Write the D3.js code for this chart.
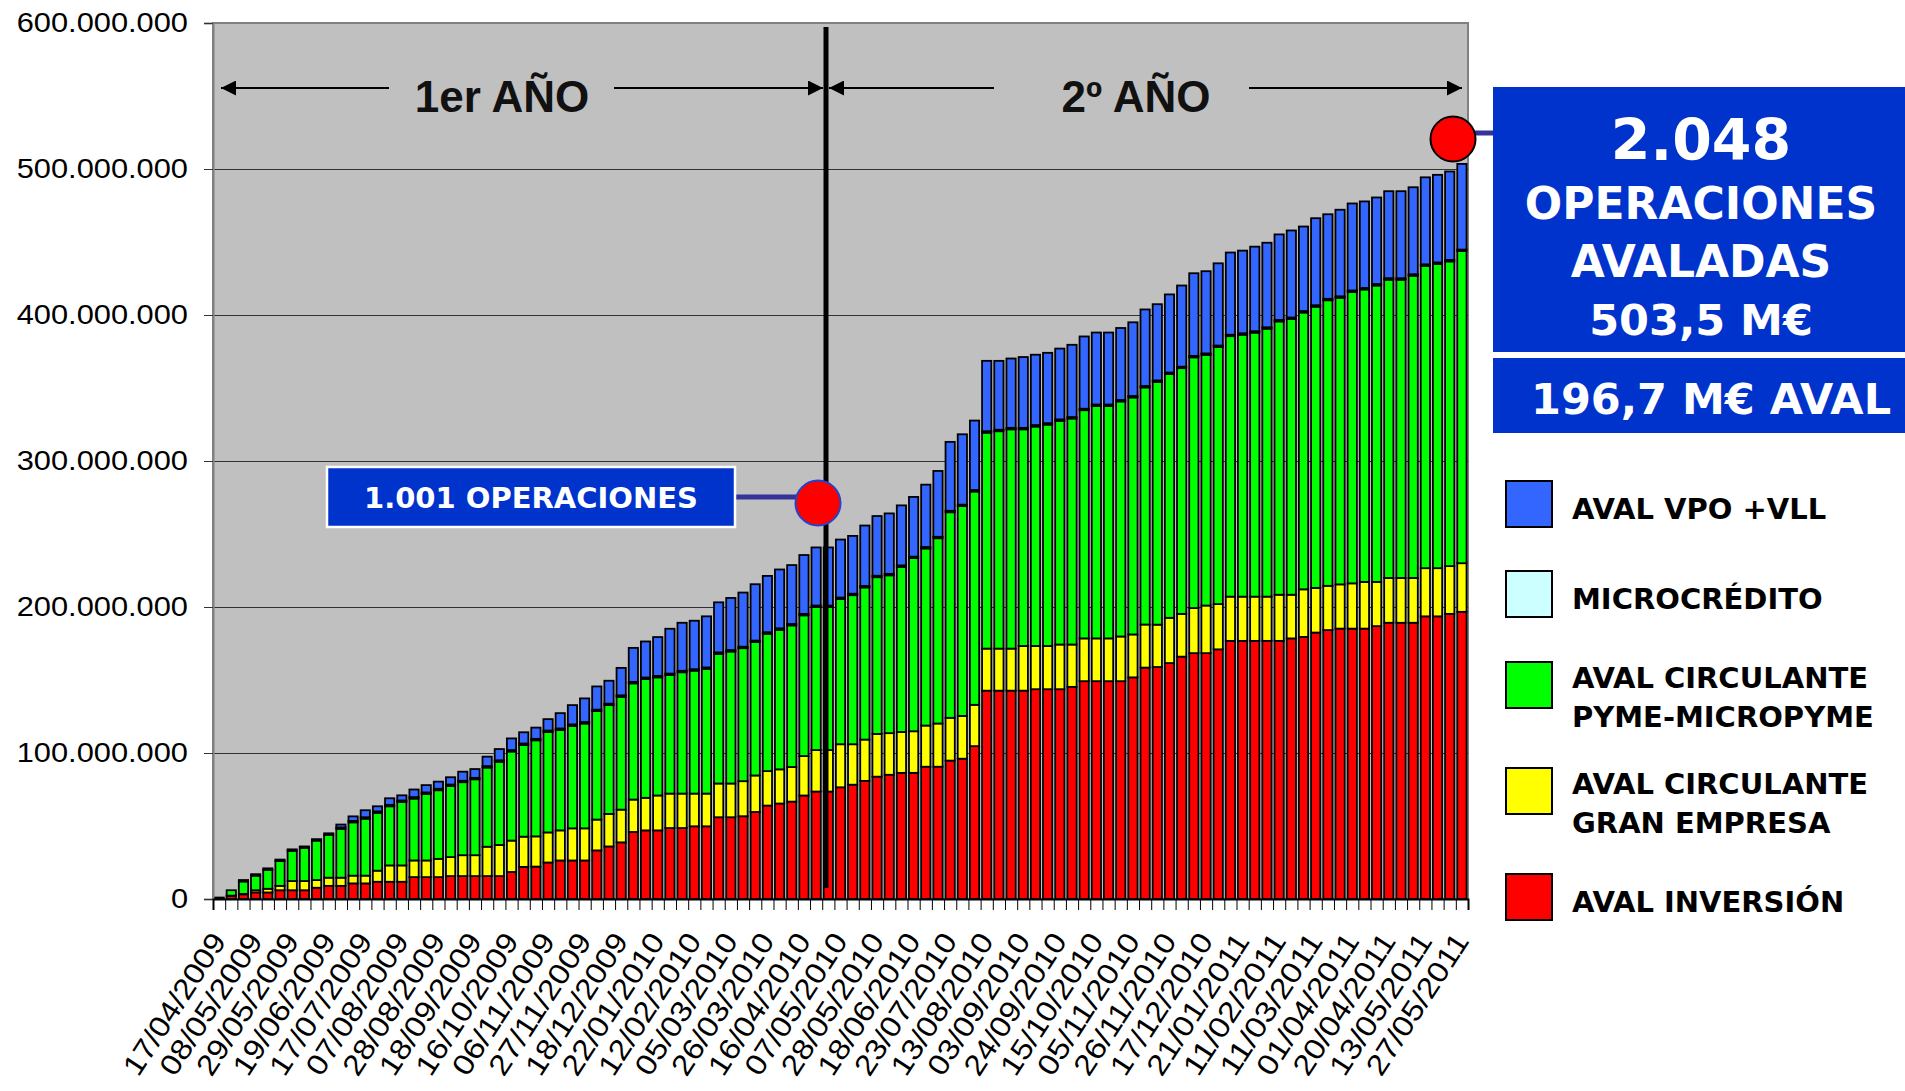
<!DOCTYPE html>
<html>
<head>
<meta charset="utf-8">
<script src="https://cdn.jsdelivr.net/npm/d3@7"></script>
<style>
body { margin: 0; background: #fff; }
svg { display: block; }
</style>
</head>
<body>
<div id="svgContainer"></div>
<script>
var width = 1905, height = 1091;

// importes acumulados, millones de euros, una barra por semana
var inversion = [0.5, 2, 3.2, 4.5, 4.5, 6, 6, 6, 7.7, 9,
  9, 10.7, 10.7, 11.8, 11.8, 11.8, 15, 15, 15, 15.7,
  15.7, 15.7, 15.7, 15.7, 18.5, 22, 22.2, 25, 26.4, 26.4,
  26.4, 33.3, 36, 38.8, 45.9, 47, 47, 48.6, 48.6, 49.8,
  49.8, 56, 56, 56.7, 59.6, 64, 65.4, 66.7, 70.9, 73.6, 73.6,
  76.5, 78.3, 80.9, 83.8, 85.1, 86.4, 86.4, 90.6, 90.6, 94.8,
  96.1, 104.7, 142.7, 142.7, 142.7, 142.7, 143.7, 143.7, 143.7, 145.3,
  149.2, 149.2, 149.2, 149.2, 151.8, 158.5, 158.9, 161.6, 166, 168.4,
  168.4, 171, 176.8, 176.8, 176.8, 176.8, 176.8, 178.5, 179.5, 182.5,
  184.2, 185.2, 185.2, 185.2, 186.9, 189.2, 189.2, 189.2, 193.6, 193.6,
  195.3, 196.7];
var granEmpresa = [0, 0.3, 0.3, 1.5, 2.5, 3, 6.3, 6.3, 5.3, 5.6,
  5.6, 5.3, 5.3, 7.6, 11.2, 11.2, 11.4, 11.4, 12.5, 13,
  14.3, 14.3, 20.1, 21.3, 21.5, 20.7, 20.7, 20.6, 20.6, 22,
  22, 21.1, 22.3, 22.4, 22.2, 22.3, 23.9, 23.6, 23.6, 22.4,
  22.4, 23.1, 23.1, 24, 25, 23.6, 23.4, 23.7, 27, 28.4, 28.4,
  29.5, 27.7, 28.3, 29.3, 28.5, 28, 28.5, 28.2, 29.6, 29.3,
  29.3, 28.3, 28.8, 28.8, 28.8, 30.6, 29.6, 29.6, 30.6, 29,
  29.3, 29.3, 29.3, 30.6, 29.4, 29.5, 29, 31, 29.3, 30.9,
  32.6, 31, 30.3, 30.3, 30.3, 30.3, 31.6, 29.9, 32.6, 30.6,
  30.3, 30.3, 31, 32, 30.3, 30.7, 30.7, 30.7, 33, 33,
  32.7, 33.3];
var pyme = [0.5, 3.7, 8.5, 10, 13, 17, 20.7, 22.7, 27, 29.4,
  33.4, 36.5, 39, 39.6, 40.5, 43.5, 42.4, 45.6, 47, 48.7,
  50, 52, 54.2, 57, 61, 62.8, 65.8, 68.8, 68.8, 70.2,
  71.8, 74.3, 74.5, 77.3, 79.6, 81.4, 80.9, 81.2, 83.1, 84.2,
  85.4, 88.8, 90.4, 91.1, 91.4, 94.1, 95.6, 97, 96.4, 98, 98,
  99.5, 102.1, 104.2, 107.3, 108.1, 113.1, 118.6, 121.3, 126.9, 140.8,
  143.7, 146.1, 147.9, 148.9, 150.2, 148.4, 150.3, 151.6, 153.2, 154.8,
  156.3, 159.2, 159.2, 161, 162.3, 162.4, 166.3, 167, 168.3, 171.7,
  171.7, 176.1, 178.4, 179.4, 180.8, 183.5, 187.2, 188.9, 189.6, 192.6,
  195.6, 196.3, 199.6, 200.3, 203, 204.3, 204.3, 207, 207.1, 208.4,
  208.7, 213.8];
var micro = [0, 0, 1, 1, 1, 1, 1, 1, 1, 1,
  1, 1, 1, 1, 1, 1, 1, 1, 1, 1,
  1, 1, 1, 1, 1, 1, 1, 1, 1, 1,
  1, 1, 1, 1, 1, 1, 1, 1, 1, 1,
  1, 1, 1, 1, 1, 1, 1, 1, 1, 1, 1,
  1, 1, 1, 1, 1, 1, 1, 1, 1, 1,
  1, 1, 1, 1, 1, 1, 1, 1, 1, 1,
  1, 1, 1, 1, 1, 1, 1, 1, 1, 1,
  1, 1, 1, 1, 1, 1, 1, 1, 1, 1,
  1, 1, 1, 1, 1, 1, 1, 1, 1, 1,
  1, 1];
var vpo = [0, 0, 0, 0, 0, 0, 0, 0, 0, 0,
  2, 3.1, 4.8, 3.5, 4.5, 3.5, 5.2, 5, 4.9, 5,
  6.2, 6, 6.5, 7.7, 8, 7.7, 7.7, 7.8, 10.5, 13.2,
  16.2, 15.9, 15.7, 18.8, 23.3, 24.7, 26.6, 30.7, 32.9, 33.2,
  35, 34.3, 35.7, 37.1, 38.6, 38.6, 40.3, 40.3, 40.3, 39.8, 39.8,
  39.7, 39.6, 41.4, 40.9, 41.4, 41.1, 40.9, 42.7, 45.1, 47.2,
  48.2, 47.6, 48.2, 47.2, 47.5, 48.5, 48.2, 48.2, 48.5, 49.5,
  49.5, 49.3, 49.3, 49.3, 50.5, 52.4, 52.2, 53.5, 55.6, 56.6,
  56.3, 56.3, 56.3, 56.6, 57.9, 57.9, 58.6, 59.6, 57.9, 59.6,
  57.9, 59.3, 59.6, 59.3, 59.3, 59.6, 59.6, 59.6, 59.6, 60,
  60.6, 58.7];

// una etiqueta cada tres semanas
var tickLabels = ["17/04/2009", "08/05/2009", "29/05/2009", "19/06/2009", "17/07/2009",
  "07/08/2009", "28/08/2009", "18/09/2009", "16/10/2009", "06/11/2009", "27/11/2009",
  "18/12/2009", "22/01/2010", "12/02/2010", "05/03/2010", "26/03/2010", "16/04/2010",
  "07/05/2010", "28/05/2010", "18/06/2010", "23/07/2010", "13/08/2010", "03/09/2010",
  "24/09/2010", "15/10/2010", "05/11/2010", "26/11/2010", "17/12/2010", "21/01/2011",
  "11/02/2011", "11/03/2011", "01/04/2011", "20/04/2011", "13/05/2011", "27/05/2011"];

var keys = ["inversion", "granEmpresa", "pyme", "micro", "vpo"];
var colors = {inversion: "#FF0000", granEmpresa: "#FFFF00", pyme: "#00FF00", micro: "#CCFFFF", vpo: "#3366FF"};
var legendItems = [
  {key: "vpo", lines: ["AVAL VPO +VLL"]},
  {key: "micro", lines: ["MICROCRÉDITO"]},
  {key: "pyme", lines: ["AVAL CIRCULANTE", "PYME-MICROPYME"]},
  {key: "granEmpresa", lines: ["AVAL CIRCULANTE", "GRAN EMPRESA"]},
  {key: "inversion", lines: ["AVAL INVERSIÓN"]}
];

var n = inversion.length;
var rows = d3.range(n).map(i => ({
  i: i, inversion: inversion[i], granEmpresa: granEmpresa[i], pyme: pyme[i], micro: micro[i], vpo: vpo[i]
}));

var plotL = 213, plotR = 1468, plotT = 23, plotB = 899;

var svg = d3.select("#svgContainer").append("svg")
  .attr("width", width).attr("height", height)
  .attr("viewBox", "0 0 " + width + " " + height);

var x = d3.scaleBand().domain(d3.range(n)).range([plotL, plotR]).paddingInner(0.24).paddingOuter(0.12);
var xEdge = d3.scaleLinear().domain([0, n]).range([plotL, plotR]);
var y = d3.scaleLinear().domain([0, 600]).range([plotB, plotT]);

// fondo del grafico
svg.append("rect")
  .attr("x", plotL).attr("y", plotT).attr("width", plotR - plotL).attr("height", plotB - plotT)
  .attr("fill", "#C0C0C0").attr("stroke", "#808080").attr("stroke-width", 2);

// lineas de division
svg.append("g")
  .attr("transform", "translate(" + plotL + ",0)")
  .call(d3.axisLeft(y).tickValues([100, 200, 300, 400, 500]).tickSize(-(plotR - plotL)).tickFormat(""))
  .call(g => g.select(".domain").remove())
  .selectAll("line").attr("stroke", "#333").attr("stroke-width", 1.2);

var stacked = d3.stack().keys(keys)(rows);

svg.append("g").selectAll("g")
  .data(stacked)
  .join("g")
  .attr("fill", d => colors[d.key])
  .selectAll("rect")
  .data(d => d)
  .join("rect")
  .attr("x", d => x(d.data.i))
  .attr("y", d => y(d[1]))
  .attr("width", x.bandwidth())
  .attr("height", d => y(d[0]) - y(d[1]))
  .attr("stroke", "#000")
  .attr("stroke-width", 1.8);

// eje Y
var yAxis = svg.append("g")
  .attr("transform", "translate(" + plotL + ",0)")
  .call(d3.axisLeft(y).tickValues(d3.range(0, 601, 100)).tickSize(9).tickPadding(16)
    .tickFormat(d => d === 0 ? "0" : d3.format(",")(d * 1e6).replace(/,/g, ".")));
yAxis.select(".domain").attr("stroke", "#808080").attr("stroke-width", 2);
yAxis.selectAll("line").attr("stroke", "#333");
yAxis.selectAll("text")
  .attr("font-family", "'Liberation Sans', Arial, sans-serif")
  .attr("font-size", 28)
  .attr("fill", "#000")
  .each(function() {
    var len = this.getComputedTextLength();
    d3.select(this).attr("textLength", len * 1.1).attr("lengthAdjust", "spacingAndGlyphs");
  });

// eje X: marcas entre categorias
svg.append("g")
  .attr("transform", "translate(0," + plotB + ")")
  .call(d3.axisBottom(xEdge).tickValues(d3.range(n + 1)).tickSize(11).tickFormat(""))
  .call(g => g.select(".domain").attr("stroke", "#000").attr("stroke-width", 2))
  .selectAll("line").attr("stroke", "#000");

// eje X: etiquetas de fecha
svg.append("g")
  .attr("transform", "translate(0," + plotB + ")")
  .call(d3.axisBottom(x).tickValues(d3.range(0, n, 3)).tickSize(0).tickFormat(i => tickLabels[i / 3]))
  .call(g => g.select(".domain").remove())
  .selectAll("text")
  .attr("x", 0).attr("y", 0).attr("dy", 0)
  .attr("text-anchor", "end")
  .attr("transform", "translate(8,42) rotate(-57)")
  .attr("font-family", "'Liberation Sans', Arial, sans-serif")
  .attr("font-size", 29)
  .attr("fill", "#000")
  .attr("textLength", 163)
  .attr("lengthAdjust", "spacingAndGlyphs");

// separacion entre años
var divX = 826;
svg.append("line")
  .attr("x1", divX).attr("x2", divX).attr("y1", 27).attr("y2", 888)
  .attr("stroke", "#000").attr("stroke-width", 5);

var defs = svg.append("defs");
defs.append("marker")
  .attr("id", "head")
  .attr("viewBox", "0 0 10 10")
  .attr("refX", 10).attr("refY", 5)
  .attr("markerWidth", 7.5).attr("markerHeight", 7.5)
  .attr("markerUnits", "strokeWidth")
  .attr("orient", "auto")
  .append("path").attr("d", "M0,0 L10,5 L0,10 Z").attr("fill", "#000");

var arrowY = 88;
[[389, 221], [614, 823], [994, 829], [1249, 1462]].forEach(a => {
  svg.append("line")
    .attr("x1", a[0]).attr("x2", a[1]).attr("y1", arrowY).attr("y2", arrowY)
    .attr("stroke", "#000").attr("stroke-width", 2)
    .attr("marker-end", "url(#head)");
});

svg.selectAll(".year")
  .data([{t: "1er AÑO", x: 502}, {t: "2º AÑO", x: 1136}])
  .join("text")
  .attr("x", d => d.x).attr("y", 112)
  .attr("text-anchor", "middle")
  .attr("font-family", "'Liberation Sans', Arial, sans-serif")
  .attr("font-weight", "bold")
  .attr("font-size", 44)
  .attr("fill", "#111")
  .text(d => d.t);

// llamada 1.001 operaciones
svg.append("line")
  .attr("x1", 735).attr("x2", 798).attr("y1", 497).attr("y2", 497)
  .attr("stroke", "#333399").attr("stroke-width", 5);
svg.append("rect")
  .attr("x", 327).attr("y", 467).attr("width", 408).attr("height", 60)
  .attr("fill", "#0033CC").attr("stroke", "#fff").attr("stroke-width", 2.5);
svg.append("text")
  .attr("x", 531).attr("y", 508)
  .attr("text-anchor", "middle")
  .attr("font-family", "'DejaVu Sans', Verdana, sans-serif")
  .attr("font-weight", "bold")
  .attr("font-size", 29)
  .attr("fill", "#fff")
  .text("1.001 OPERACIONES");
svg.append("circle")
  .attr("cx", 818).attr("cy", 503).attr("r", 22.5)
  .attr("fill", "#FF0000").attr("stroke", "#2244CC").attr("stroke-width", 2);

// llamada total
svg.append("line")
  .attr("x1", 1470).attr("x2", 1494).attr("y1", 133).attr("y2", 133)
  .attr("stroke", "#333399").attr("stroke-width", 5);
svg.append("circle")
  .attr("cx", 1453).attr("cy", 139).attr("r", 22.5)
  .attr("fill", "#FF0000").attr("stroke", "#000").attr("stroke-width", 2);
svg.append("rect")
  .attr("x", 1493).attr("y", 87).attr("width", 420).attr("height", 265)
  .attr("fill", "#0033CC");
svg.append("rect")
  .attr("x", 1493).attr("y", 358).attr("width", 420).attr("height", 75)
  .attr("fill", "#0033CC");

var boxText = [
  {t: "2.048", y: 160, s: 57},
  {t: "OPERACIONES", y: 219, s: 44},
  {t: "AVALADAS", y: 277, s: 44},
  {t: "503,5 M€", y: 335, s: 43},
  {t: "196,7 M€ AVAL", y: 414, s: 43, x: 1711}
];
svg.selectAll(".boxText")
  .data(boxText)
  .join("text")
  .attr("x", d => d.x || 1701).attr("y", d => d.y)
  .attr("text-anchor", "middle")
  .attr("font-family", "'DejaVu Sans', Verdana, sans-serif")
  .attr("font-weight", "bold")
  .attr("font-size", d => d.s)
  .attr("fill", "#fff")
  .text(d => d.t);

// leyenda
var legendTop = [481, 571, 662, 768, 874];
var legend = svg.append("g").selectAll("g")
  .data(legendItems)
  .join("g")
  .attr("transform", (d, i) => "translate(1506," + legendTop[i] + ")");
legend.append("rect")
  .attr("width", 46).attr("height", 46)
  .attr("fill", d => colors[d.key])
  .attr("stroke", "#000").attr("stroke-width", 2);
legend.append("text")
  .attr("font-family", "'DejaVu Sans', Verdana, sans-serif")
  .attr("font-weight", "bold")
  .attr("font-size", 29)
  .attr("fill", "#000")
  .selectAll("tspan")
  .data(d => d.lines.map((l, j) => ({l: l, j: j, count: d.lines.length})))
  .join("tspan")
  .attr("x", 66)
  .attr("y", d => d.count === 1 ? 38 : 26 + d.j * 38.5)
  .text(d => d.l);
</script>
</body>
</html>
